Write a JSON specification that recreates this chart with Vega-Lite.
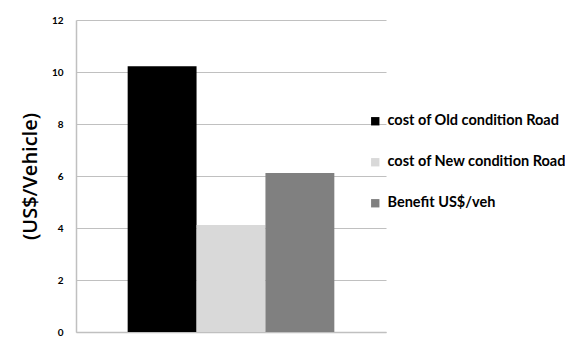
{
  "$schema": "https://vega.github.io/schema/vega-lite/v6.json",
  "width": 310,
  "height": 312,
  "autosize": {"type": "none"},
  "padding": {"left": 76, "top": 20, "right": 179, "bottom": 8},
  "background": "white",
  "config": {"view": {"stroke": null}, "font": "Lato"},
  "data": {
    "values": [
      {"series": "cost of Old condition Road", "value": 10.22},
      {"series": "cost of New condition Road", "value": 4.12},
      {"series": "Benefit US$/veh", "value": 6.12}
    ]
  },
  "mark": {"type": "bar"},
  "encoding": {
    "x": {
      "field": "series",
      "type": "nominal",
      "sort": null,
      "scale": {"paddingInner": 0, "paddingOuter": 0.75},
      "axis": {"labels": false, "ticks": false, "title": null, "domainColor": "#c0c0c0", "domainWidth": 1.5}
    },
    "y": {
      "field": "value",
      "type": "quantitative",
      "scale": {"domain": [0, 12], "nice": false},
      "axis": {
        "values": [0, 2, 4, 6, 8, 10, 12],
        "title": "(US$/Vehicle)",
        "titleFont": "Open Sans",
        "titleFontSize": 20,
        "titleFontWeight": 600,
        "titleColor": "#000000",
        "titleX": -46,
        "titleY": 156,
        "titleAngle": -90,
        "titleAlign": "center",
        "titleBaseline": "middle",
        "labelFont": "Lato",
        "labelFontWeight": "bold",
        "labelFontSize": 10,
        "labelColor": "#000000",
        "labelPadding": 13,
        "ticks": false,
        "domainColor": "#c0c0c0",
        "domainWidth": 1.5,
        "gridColor": "#c0c0c0",
        "gridWidth": 1.2
      }
    },
    "color": {
      "field": "series",
      "type": "nominal",
      "scale": {
        "domain": ["cost of Old condition Road", "cost of New condition Road", "Benefit US$/veh"],
        "range": ["#000000", "#d9d9d9", "#808080"]
      },
      "legend": {
        "title": null,
        "orient": "none",
        "legendX": 292,
        "legendY": 94,
        "symbolType": "square",
        "symbolSize": 70,
        "symbolStrokeWidth": 0,
        "labelFont": "Lato",
        "labelFontWeight": "bold",
        "labelFontSize": 14.5,
        "labelColor": "#000000",
        "labelOffset": 5,
        "labelLimit": 400,
        "rowPadding": 26
      }
    }
  }
}
